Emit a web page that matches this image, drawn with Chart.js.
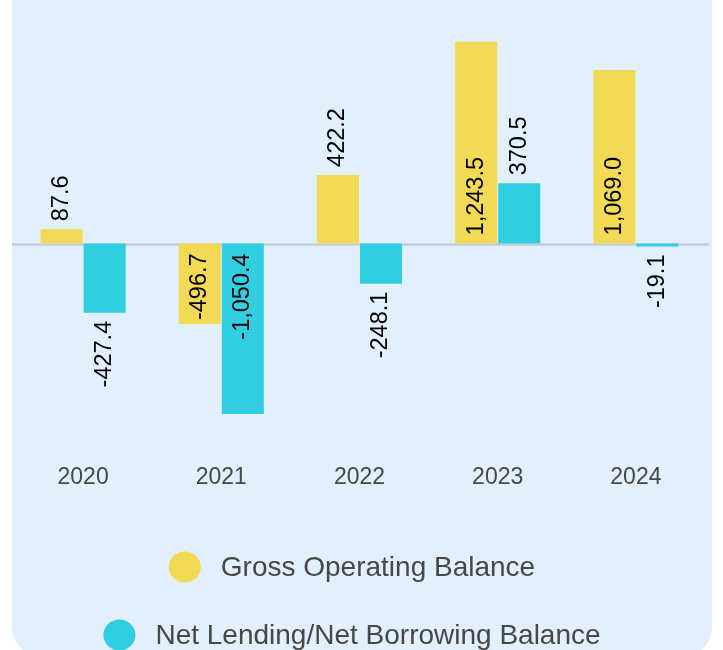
<!DOCTYPE html>
<html>
<head>
<meta charset="utf-8">
<script src="https://cdn.jsdelivr.net/npm/chart.js@4.4.1/dist/chart.umd.min.js"></script>
<style>
  html, body { margin: 0; padding: 0; background: #ffffff; width: 723px; height: 650px; overflow: hidden; }
  #panel { position: absolute; left: 12px; top: -40px; width: 700px; height: 696px; background: #e2effd; border-radius: 28px; }
  #wrap { position: absolute; left: 0; top: 0; width: 723px; height: 650px; }
</style>
</head>
<body>
<div id="panel"></div>
<div id="wrap"><canvas id="c" width="723" height="650"></canvas></div>
<script>
const categories = ['2020', '2021', '2022', '2023', '2024'];
const grossOperatingBalance = [87.6, -496.7, 422.2, 1243.5, 1069.0];
const netLendingBalance = [-427.4, -1050.4, -248.1, 370.5, -19.1];
const seriesNames = ['Gross Operating Balance', 'Net Lending/Net Borrowing Balance'];
const seriesColors = ['#f3da55', '#31cde1'];

const fmt = v => v.toLocaleString('en-US', { minimumFractionDigits: 1, maximumFractionDigits: 1 });
const LABEL_FONT = '23.5px "Liberation Sans", Arial, sans-serif';

const zeroLine = {
  id: 'zeroLine',
  beforeDatasetsDraw(chart) {
    const ctx = chart.ctx;
    const y = chart.scales.y.getPixelForValue(0);
    ctx.save();
    ctx.strokeStyle = '#c4ced9';
    ctx.lineWidth = 2.4;
    ctx.beginPath();
    ctx.moveTo(12, y + 1);
    ctx.lineTo(709, y + 1);
    ctx.stroke();
    ctx.restore();
  }
};

const barLabels = {
  id: 'barLabels',
  afterDatasetsDraw(chart) {
    const ctx = chart.ctx;
    const zeroY = chart.scales.y.getPixelForValue(0);
    const pad = 8;
    ctx.save();
    ctx.font = LABEL_FONT;
    ctx.fillStyle = '#000000';
    ctx.textBaseline = 'middle';
    chart.data.datasets.forEach((ds, di) => {
      const meta = chart.getDatasetMeta(di);
      meta.data.forEach((bar, i) => {
        const v = ds.data[i];
        const txt = fmt(v);
        const tw = ctx.measureText(txt).width;
        const len = Math.abs(bar.y - zeroY);
        const inside = len >= tw + 12;
        ctx.save();
        ctx.translate(bar.x, 0);
        ctx.rotate(-Math.PI / 2);
        if (v >= 0) {
          ctx.textAlign = 'left';
          const yy = inside ? zeroY - pad : bar.y - pad;
          ctx.fillText(txt, -yy, 0);
        } else {
          ctx.textAlign = 'right';
          const yy = inside ? zeroY + pad + 2 : bar.y + pad;
          ctx.fillText(txt, -yy, 0);
        }
        ctx.restore();
      });
    });
    ctx.restore();
  }
};

const customLegend = {
  id: 'customLegend',
  afterDraw(chart) {
    const ctx = chart.ctx;
    const rows = [567, 635];
    const centerX = 352;
    const r = 16;
    const gap = 20;
    ctx.save();
    ctx.font = '28px "Liberation Sans", Arial, sans-serif';
    ctx.textBaseline = 'middle';
    ctx.textAlign = 'left';
    chart.data.datasets.forEach((ds, i) => {
      const tw = ctx.measureText(ds.label).width;
      const total = 2 * r + gap + tw;
      const x0 = centerX - total / 2;
      const y = rows[i];
      ctx.fillStyle = ds.backgroundColor;
      ctx.beginPath();
      ctx.ellipse(x0 + r, y, r, r - 0.5, 0, 0, Math.PI * 2);
      ctx.fill();
      ctx.fillStyle = '#474747';
      ctx.fillText(ds.label, x0 + 2 * r + gap, y + 1);
    });
    ctx.restore();
  }
};

new Chart(document.getElementById('c'), {
  type: 'bar',
  data: {
    labels: categories,
    datasets: [
      { label: seriesNames[0], data: grossOperatingBalance, backgroundColor: seriesColors[0], categoryPercentage: 0.6227, barPercentage: 0.977 },
      { label: seriesNames[1], data: netLendingBalance, backgroundColor: seriesColors[1], categoryPercentage: 0.6227, barPercentage: 0.977 }
    ]
  },
  options: {
    responsive: false,
    animation: false,
    devicePixelRatio: 1,
    layout: { padding: { left: 14, right: 18, top: 0, bottom: 150 } },
    plugins: {
      legend: { display: false },
      tooltip: { enabled: false }
    },
    scales: {
      x: {
        grid: { display: false, drawTicks: false },
        border: { display: false },
        ticks: { color: '#474747', font: { family: '"Liberation Sans", Arial, sans-serif', size: 23 }, padding: 9 }
      },
      y: {
        display: false,
        min: -1300,
        max: 1500
      }
    }
  },
  plugins: [zeroLine, barLabels, customLegend]
});
</script>
</body>
</html>
